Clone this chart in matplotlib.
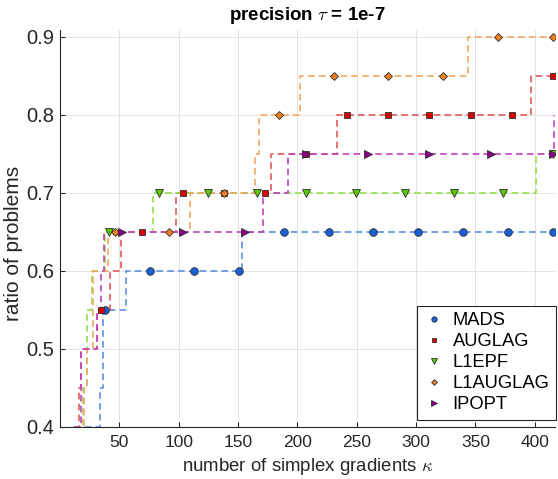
"""Data profile: ratio of problems solved vs. number of simplex gradients."""

import matplotlib.pyplot as plt
import numpy as np

plt.rcParams['font.family'] = ['Liberation Sans', 'DejaVu Sans']
plt.rcParams['mathtext.fontset'] = 'cm'

SOLVERS = ["MADS", "AUGLAG", "L1EPF", "L1AUGLAG", "IPOPT"]
X_END = 416.0
X_MARK_END = 415.0

# breakpoints: kappa where each profile jumps to the matching ratio
MADS_X = [12.0, 33.8, 36.0, 55.6, 153.0]
MADS_Y = [0.40, 0.45, 0.55, 0.60, 0.65]
AUGLAG_X = [12.0, 16.0, 17.5, 31.0, 42.0, 51.4, 97.5, 177.7, 233.5, 397.1]
AUGLAG_Y = [0.40, 0.45, 0.50, 0.55, 0.60, 0.65, 0.70, 0.75, 0.80, 0.85]
L1EPF_X = [12.0, 19.2, 22.6, 26.8, 37.5, 78.1, 401.3]
L1EPF_Y = [0.40, 0.45, 0.55, 0.60, 0.65, 0.70, 0.75]
L1AUGLAG_X = [12.0, 20.0, 23.0, 28.0, 40.8, 109.5, 164.2, 167.6, 202.4, 344.1]
L1AUGLAG_Y = [0.40, 0.45, 0.50, 0.60, 0.65, 0.70, 0.75, 0.80, 0.85, 0.90]
IPOPT_X = [12.0, 17.8, 31.5, 34.5, 37.1, 171.2, 192.3, 416.0]
IPOPT_Y = [0.40, 0.50, 0.55, 0.60, 0.65, 0.70, 0.75, 0.80]

N_MARKERS = [11, 12, 10, 9, 8]
MARKERS = ["o", "s", "v", "D", ">"]
MARKER_SIZES = [5.5, 4.5, 5.5, 4.2, 5.5]
FACE_COLORS = ["#1a5fd6", "#dd0000", "#5cc800", "#f07f1e", "#8c008c"]
LINE_COLORS = ["#5e90e2", "#e05a5a", "#8fe24a", "#f2a865", "#c043c0"]

X_TICKS = [50, 100, 150, 200, 250, 300, 350, 400]
Y_TICKS = [0.4, 0.5, 0.6, 0.7, 0.8, 0.9]

SERIES = [(MADS_X, MADS_Y), (AUGLAG_X, AUGLAG_Y), (L1EPF_X, L1EPF_Y),
          (L1AUGLAG_X, L1AUGLAG_Y), (IPOPT_X, IPOPT_Y)]

fig = plt.figure(figsize=(5.58, 4.79), dpi=100)
ax = fig.add_axes([60 / 558, 52 / 479, 495 / 558, 397 / 479])

dark = "#262626"
handles = []
for (xs, ys), name, m, ms, fc, lc, n in zip(SERIES, SOLVERS, MARKERS, MARKER_SIZES,
                                              FACE_COLORS, LINE_COLORS, N_MARKERS):
    xs = np.asarray(xs)
    ys = np.asarray(ys)
    ax.step(np.append(xs, X_END), np.append(ys, ys[-1]), where="post",
            color=lc, lw=1.2, dashes=(4, 2.5), zorder=2)
    xm = X_MARK_END * np.arange(1, n + 1) / n
    ym = ys[np.searchsorted(xs, xm, side="right") - 1]
    h, = ax.plot(xm, ym, linestyle="none", marker=m, ms=ms, mfc=fc,
                 mec="#303030", mew=0.6, zorder=3, label=name)
    handles.append(h)

ax.set_xlim(0, 417)
ax.set_ylim(0.4, 0.9086)
ax.set_xticks(X_TICKS)
ax.set_yticks(Y_TICKS)
ax.set_yticklabels([f"{v:.1f}" for v in Y_TICKS])
ax.grid(True, color="#e3e3e3", lw=0.7)
ax.set_axisbelow(True)
for s in ("top", "right"):
    ax.spines[s].set_visible(False)
for s in ("left", "bottom"):
    ax.spines[s].set_color(dark)
    ax.spines[s].set_linewidth(0.8)
ax.tick_params(axis="both", direction="in", length=3.5, width=0.8, colors=dark)
ax.tick_params(axis="x", labelsize=12.5, pad=6)
ax.tick_params(axis="y", labelsize=14.5, pad=4)

ax.set_xlabel(r"number of simplex gradients $\kappa$", fontsize=13.4,
              color=dark, labelpad=4)
ax.set_ylabel("ratio of problems", fontsize=15, color=dark)
ax.yaxis.set_label_coords(-0.074, 0.463)
ax.set_title(r"precision $\tau$ = 1e-7", fontsize=13.5, fontweight="bold", pad=7)

leg = ax.legend(handles=handles, loc="lower right", bbox_to_anchor=(1.002, 0.018),
                fontsize=13.2, markerscale=0.7, handlelength=1.2, handletextpad=0.4,
                labelspacing=0.22, borderpad=0.35, borderaxespad=0,
                fancybox=False, framealpha=1, edgecolor=dark)
leg.get_frame().set_linewidth(0.8)

fig.savefig("out.png", dpi=100)
